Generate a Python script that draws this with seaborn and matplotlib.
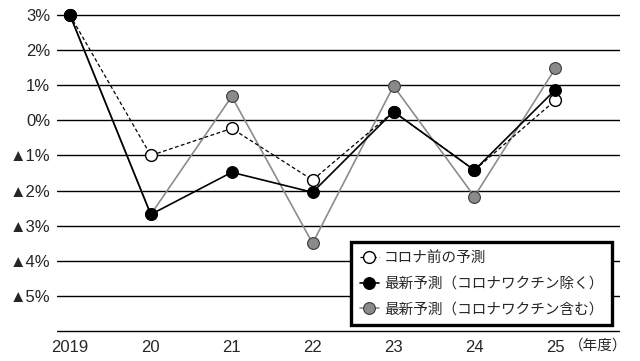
import numpy as np
import pandas as pd
import seaborn as sns
from matplotlib import pyplot as plt

# values (% growth, fiscal years)
years = [2019, 2020, 2021, 2022, 2023, 2024, 2025]
year_labels = ['2019', '20', '21', '22', '23', '24', '25']
pre_corona = [3.0, -1.0, -0.23, -1.7, 0.25, -1.42, 0.57]
latest_excl = [3.0, -2.68, -1.48, -2.05, 0.25, -1.42, 0.87]
latest_incl = [3.0, -2.68, 0.68, -3.5, 0.98, -2.17, 1.48]
names = ['コロナ前の予測', '最新予測（コロナワクチン除く）', '最新予測（コロナワクチン含む）']
ytick_vals = [3, 2, 1, 0, -1, -2, -3, -4, -5, -6]
ytick_labels = ['3%', '2%', '1%', '0%', '▲1%', '▲2%', '▲3%', '▲4%', '▲5%', '']

sns.set_style('white')
plt.rcParams['font.family'] = ['Liberation Sans', 'Noto Sans CJK JP', 'DejaVu Sans']

fig = plt.figure(figsize=(6.4, 3.61), dpi=100)
ax = fig.add_axes([57/640, 27.9/361, 563/640, 332.1/361])

# gridlines drawn first
for v in ytick_vals:
    ax.axhline(v, color='black', lw=1.0, zorder=0)

# gray first, then white, black on top
sns.lineplot(x=years, y=latest_incl, ax=ax, color='#8c8c8c', lw=1.2,
             marker='o', markersize=8.5, markerfacecolor='#8a8a8a',
             markeredgecolor='#3a3a3a', markeredgewidth=0.8, label=names[2], zorder=3)
sns.lineplot(x=years, y=pre_corona, ax=ax, color='black', lw=0.9, linestyle=(0, (3, 2)),
             marker='o', markersize=8.5, markerfacecolor='white',
             markeredgecolor='black', markeredgewidth=1.0, label=names[0], zorder=4)
sns.lineplot(x=years, y=latest_excl, ax=ax, color='black', lw=1.2,
             marker='o', markersize=8.5, markerfacecolor='black',
             markeredgecolor='black', label=names[1], zorder=5)

ax.set_xlim(2018.84, 2025.80)
ax.set_ylim(-6.06, 3.4)
ax.set_xticks(years)
ax.set_xticklabels(year_labels, fontsize=12)
ax.set_yticks(ytick_vals)
ax.set_yticklabels(ytick_labels, fontsize=12)
ax.tick_params(length=0)
ax.tick_params(axis='y', pad=5)
ax.tick_params(axis='x', pad=5)
for s in ax.spines.values():
    s.set_visible(False)
ax.set_xlabel('')
ax.set_ylabel('')

handles, labels = ax.get_legend_handles_labels()
order = [labels.index(n) for n in names]
leg = ax.legend([handles[i] for i in order], [labels[i] for i in order],
                loc='lower right', bbox_to_anchor=(0.986, 0.024), borderaxespad=0,
                fontsize=10.5, frameon=True, fancybox=False, framealpha=1,
                handlelength=1.3, handletextpad=0.35, borderpad=0.6, labelspacing=0.8)
leg.get_frame().set_edgecolor('black')
leg.get_frame().set_linewidth(2.4)
leg.set_zorder(10)

fig.text(569/640, 1 - 346/361, '（年度）', fontsize=10.5, va='center', ha='left')

fig.savefig('out.png', dpi=100)
